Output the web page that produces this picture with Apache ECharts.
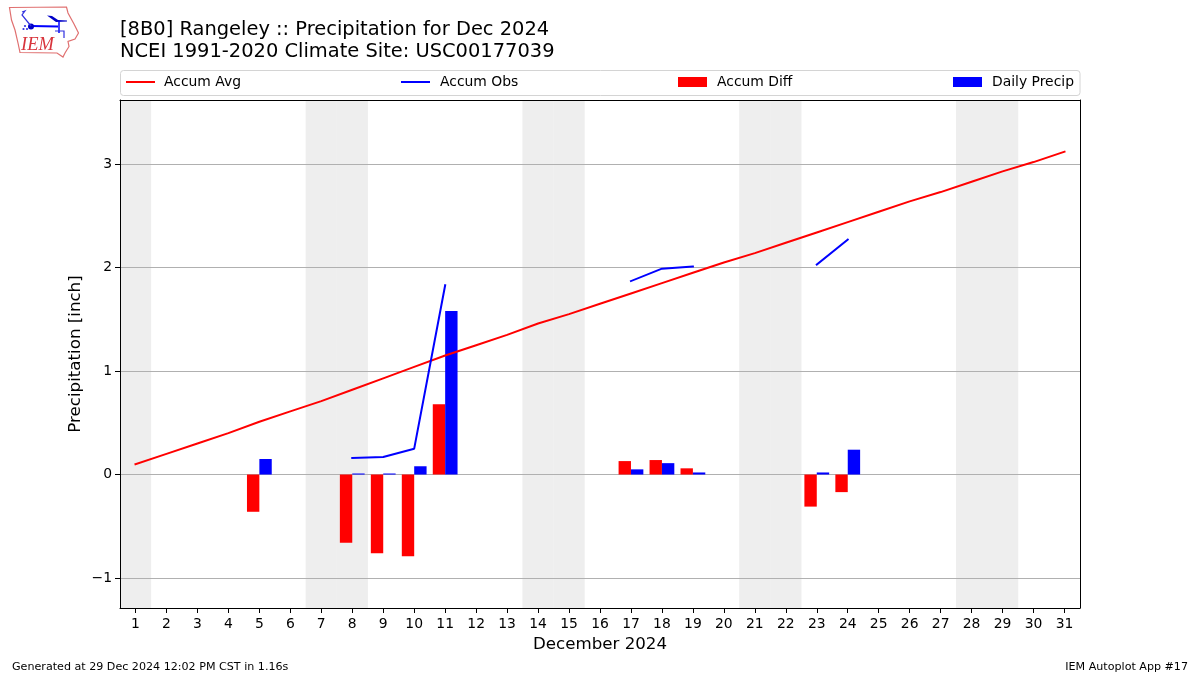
<!DOCTYPE html>
<html>
<head>
<meta charset="utf-8">
<style>html,body{margin:0;padding:0;background:#fff}#c{width:1200px;height:675px}</style>
<script src="https://cdn.jsdelivr.net/npm/echarts@6/dist/echarts.min.js"></script>
</head>
<body>
<div id="c"></div>
<script>
const days = ['1','2','3','4','5','6','7','8','9','10','11','12','13','14','15','16','17','18','19','20','21','22','23','24','25','26','27','28','29','30','31'];
const accumAvg = [0.10,0.20,0.30,0.40,0.51,0.61,0.71,0.82,0.93,1.04,1.15,1.25,1.35,1.46,1.55,1.65,1.75,1.85,1.95,2.05,2.14,2.24,2.34,2.44,2.54,2.64,2.73,2.83,2.93,3.02,3.12];
const accumObs = [null,null,null,null,0.15,null,null,0.16,0.17,0.25,1.83,null,null,null,null,null,1.87,1.99,2.01,null,null,null,2.03,2.27,null,null,null,null,null,null,null];
const accumDiff = [null,null,null,null,-0.36,null,null,-0.66,-0.76,-0.79,0.68,null,null,null,null,null,0.13,0.14,0.06,null,null,null,-0.31,-0.17,null,null,null,null,null,null,null];
const dailyPrecip = [null,null,null,null,0.15,null,null,0.01,0.01,0.08,1.58,null,null,null,null,null,0.05,0.11,0.02,null,null,null,0.02,0.24,null,null,null,null,null,null,null];
const weekend = [1,0,0,0,0,0,1,1,0,0,0,0,0,1,1,0,0,0,0,0,1,1,0,0,0,0,0,1,1,0,0];
const yTicks = [-1,0,1,2,3];
const titleLines = ['[8B0] Rangeley :: Precipitation for Dec 2024','NCEI 1991-2020 Climate Site: USC00177039'];
const FONT = 'DejaVu Sans';

const chart = echarts.init(document.getElementById('c'), null, {renderer:'canvas'});
function leg(name, left, h, pad){
  return {show:true, data:[{name:name,icon:'rect'}], left:left, top:75, itemWidth:29, itemHeight:h, itemGap:0,
    padding:0, textStyle:{fontFamily:FONT,fontSize:13.9,color:'#000',padding:[0,0,0,pad]}};
}
const blue='#0000ff', red='#ff0000';
chart.setOption({
  animation:false,
  backgroundColor:'#fff',
  title:{text:titleLines.join('\n'),left:120,top:18.5,padding:0,
    textStyle:{fontFamily:FONT,fontSize:19.44,fontWeight:'normal',color:'#000',lineHeight:22}},
  legend:[leg('Accum Avg',126,2,4),leg('Accum Obs',401,2,5),leg('Accum Diff',678,10,5),leg('Daily Precip',953,10,5)],
  grid:{left:120,right:120,top:100,bottom:67,show:false,containLabel:false},
  xAxis:[
    {type:'category',data:days,boundaryGap:true,position:'bottom',
     name:'December 2024',nameLocation:'middle',nameGap:28,
     nameTextStyle:{fontFamily:FONT,fontSize:16.67,color:'#000'},
     axisLine:{show:true,onZero:false,lineStyle:{color:'#000',width:1}},
     axisTick:{show:true,alignWithLabel:true,length:5,lineStyle:{color:'#000',width:1}},
     axisLabel:{interval:0,fontFamily:FONT,fontSize:13.9,color:'#000',margin:9},
     splitLine:{show:false}},
    {type:'category',data:days,boundaryGap:true,position:'top',gridIndex:0,
     axisLine:{show:true,onZero:false,lineStyle:{color:'#000',width:1}},
     axisTick:{show:false},axisLabel:{show:false},splitLine:{show:false}}
  ],
  yAxis:[
    {type:'value',min:-1.29,max:3.62,position:'left',
     name:'Precipitation [inch]',nameLocation:'middle',nameGap:36,nameMoveOverlap:false,
     nameTextStyle:{fontFamily:FONT,fontSize:16.67,color:'#000'},
     axisLine:{show:true,onZero:false,lineStyle:{color:'#000',width:1}},
     axisTick:{show:true,length:5,customValues:yTicks,lineStyle:{color:'#000',width:1}},
     axisLabel:{fontFamily:FONT,fontSize:13.9,color:'#000',margin:8,padding:[2,0,0,0],customValues:yTicks,
       formatter:v=>String(v).replace('-','\u2212')},
     splitLine:{show:true,lineStyle:{color:'#b0b0b0',width:1,type:'solid'}}},
    {type:'value',min:0,max:1,position:'right',gridIndex:0,
     axisLine:{show:true,onZero:false,lineStyle:{color:'#000',width:1}},
     axisTick:{show:false},axisLabel:{show:false},splitLine:{show:false}}
  ],
  series:[
    {name:'Weekend',type:'bar',xAxisIndex:1,yAxisIndex:1,data:weekend,barWidth:'101%',z:-1,silent:true,
     itemStyle:{color:'#eeeeee'},legendHoverLink:false},
    {name:'Accum Diff',type:'bar',data:accumDiff,barWidth:'40%',barGap:'0%',z:3,itemStyle:{color:red}},
    {name:'Daily Precip',type:'bar',data:dailyPrecip,barWidth:'40%',barGap:'0%',z:3,itemStyle:{color:blue}},
    {name:'Accum Avg',type:'line',data:accumAvg,symbol:'none',showSymbol:false,z:4,lineStyle:{color:red,width:2,cap:'square'},itemStyle:{color:red}},
    {name:'Accum Obs',type:'line',data:accumObs,symbol:'none',showSymbol:false,connectNulls:false,z:4,lineStyle:{color:blue,width:2,cap:'square'},itemStyle:{color:blue}}
  ],
  graphic:[
    {type:'rect',shape:{x:120.5,y:70.5,width:959.5,height:25,r:3},z:-5,
     style:{fill:'#fff',stroke:'#d4d4d4',lineWidth:1}},
    {type:'text',left:12,top:661.5,style:{text:'Generated at 29 Dec 2024 12:02 PM CST in 1.16s',font:'11.12px "DejaVu Sans"',fill:'#000'}},
    {type:'text',right:12,top:661.5,style:{text:'IEM Autoplot App #17',font:'11.12px "DejaVu Sans"',fill:'#000'}},
    {type:'polygon',shape:{points:[[9.5,7.5],[66.5,7],[68,13],[74,24],[78.5,33],[75,39],[68,41.5],[69,46.5],[65,53],[63,57],[57,53],[20,52.5],[18,43],[15,30],[11.5,20]]},
     style:{fill:'#fff',stroke:'#e07070',lineWidth:1.2}},
    {type:'text',left:21,top:36,style:{text:'IEM',font:'italic 18.5px "Liberation Serif"',fill:'#d8343c'}},
    {type:'polyline',shape:{points:[[31,26],[58,26.5]]},style:{stroke:blue,lineWidth:2,fill:'none'}},
    {type:'circle',shape:{cx:31,cy:26.5,r:3},style:{fill:'#0000c8'}},
    {type:'polyline',shape:{points:[[22,12],[25,11],[22,15],[31,26]]},style:{stroke:'#3030e0',lineWidth:1.2,fill:'none'}},
    {type:'polygon',shape:{points:[[47,15.5],[52,16],[58,20],[67,20.5],[67,21.5],[56,22]]},style:{fill:'#0000c8'}},
    {type:'polyline',shape:{points:[[59,21],[59,33]]},style:{stroke:blue,lineWidth:1.5,fill:'none'}},
    {type:'polyline',shape:{points:[[55,31],[64,31],[64,38]]},style:{stroke:'#3030e0',lineWidth:1.2,fill:'none'}},
    {type:'circle',shape:{cx:25,cy:26,r:1.1},style:{fill:'#3030e0'}},
    {type:'circle',shape:{cx:23.5,cy:29,r:1.1},style:{fill:'#3030e0'}},
    {type:'circle',shape:{cx:27,cy:29,r:1.1},style:{fill:'#3030e0'}}
  ]
});
</script>
</body>
</html>
